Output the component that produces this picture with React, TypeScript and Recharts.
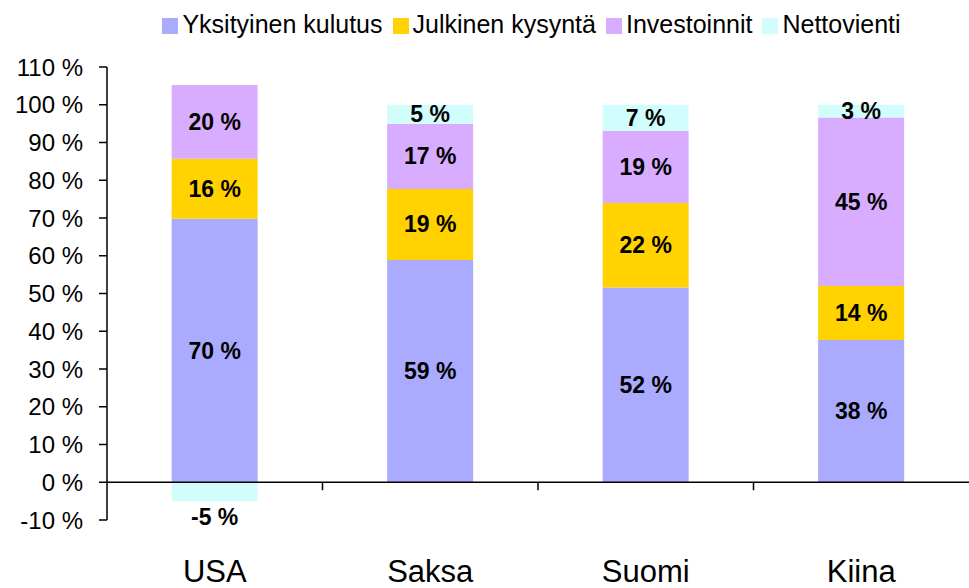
import { BarChart, Bar, XAxis, YAxis, Legend, LabelList, ReferenceLine } from 'recharts'

const categories = ['USA', 'Saksa', 'Suomi', 'Kiina']
const yksityinen = [69.8, 58.9, 51.6, 37.7]
const julkinen = [15.9, 18.8, 22.4, 14.3]
const investoinnit = [19.5, 17.3, 19.1, 44.6]
const nettovienti = [-5, 5, 6.9, 3.4]
const yTicks = [-10, 0, 10, 20, 30, 40, 50, 60, 70, 80, 90, 100, 110]
const seriesOrder = ['yksityinen', 'julkinen', 'investoinnit', 'nettovienti']

const data = categories.map((name, i) => ({
  name,
  yksityinen: yksityinen[i],
  julkinen: julkinen[i],
  investoinnit: investoinnit[i],
  nettovienti: nettovienti[i],
}))

const FONT = '"Liberation Sans", Arial, sans-serif'

const pct = (v: number) => `${Math.round(v)} %`

// centered label, or below the bar for negative values
// eslint-disable-next-line @typescript-eslint/no-explicit-any
const SegmentLabel = (props: any) => {
  const { x, y, width, height, value } = props
  if (value == null) return null
  const top = Math.min(y, y + height)
  const h = Math.abs(height)
  const cy = value < 0 ? top + h + 16 : top + h / 2
  return (
    <text
      x={x + width / 2}
      y={cy}
      textAnchor="middle"
      dominantBaseline="central"
      fontFamily={FONT}
      fontSize={23}
      fontWeight="bold"
      fill="#000"
    >
      {pct(value)}
    </text>
  )
}

// zero line with tick marks between the categories
// eslint-disable-next-line @typescript-eslint/no-explicit-any
const ZeroLine = (props: any) => {
  const { x1, y1, x2, y2 } = props
  const step = (x2 - x1) / categories.length
  return (
    <g>
      <line x1={x1} y1={y1} x2={x2} y2={y2} stroke="#000" strokeWidth={1.5} />
      {categories.slice(1).map((c, i) => (
        <line key={c} x1={x1 + step * (i + 1)} y1={y1} x2={x1 + step * (i + 1)} y2={y1 + 8} stroke="#000" strokeWidth={1.5} />
      ))}
    </g>
  )
}

export default function App() {
  return (
    <div style={{ position: 'absolute', left: 0, top: 0, background: '#fff' }}>
      <BarChart
        width={969}
        height={588}
        data={data}
        stackOffset="sign"
        barCategoryGap="30%"
        margin={{ top: 28, right: 0, bottom: 0, left: 0 }}
      >
        <Legend
          verticalAlign="top"
          align="center"
          iconType="square"
          iconSize={16}
          height={39}
          // eslint-disable-next-line @typescript-eslint/no-explicit-any
          itemSorter={(item: any) => seriesOrder.indexOf(item.dataKey)}
          wrapperStyle={{ fontFamily: FONT, fontSize: 25, top: 10, left: 52 }}
          formatter={(v) => <span style={{ color: '#000' }}>{v}</span>}
        />
        <XAxis
          dataKey="name"
          axisLine={false}
          tickLine={false}
          tickSize={0}
          tickMargin={40}
          height={68}
          tick={{ fontFamily: FONT, fontSize: 31, fill: '#000' }}
        />
        <YAxis
          domain={[-10, 110]}
          ticks={yTicks}
          interval={0}
          width={107}
          tickFormatter={pct}
          axisLine={{ stroke: '#000', strokeWidth: 1.5 }}
          tickLine={{ stroke: '#000', strokeWidth: 1.5 }}
          tickSize={8}
          tickMargin={16}
          tick={{ fontFamily: FONT, fontSize: 24, fill: '#000' }}
        />
        <ReferenceLine y={0} shape={ZeroLine} />
        <Bar dataKey="yksityinen" name="Yksityinen kulutus" stackId="a" fill="#AAAAFF" isAnimationActive={false}>
          <LabelList dataKey="yksityinen" content={SegmentLabel} />
        </Bar>
        <Bar dataKey="julkinen" name="Julkinen kysyntä" stackId="a" fill="#FFD200" isAnimationActive={false}>
          <LabelList dataKey="julkinen" content={SegmentLabel} />
        </Bar>
        <Bar dataKey="investoinnit" name="Investoinnit" stackId="a" fill="#D8ACFF" isAnimationActive={false}>
          <LabelList dataKey="investoinnit" content={SegmentLabel} />
        </Bar>
        <Bar dataKey="nettovienti" name="Nettovienti" stackId="a" fill="#D2FDFD" isAnimationActive={false}>
          <LabelList dataKey="nettovienti" content={SegmentLabel} />
        </Bar>
      </BarChart>
    </div>
  )
}
